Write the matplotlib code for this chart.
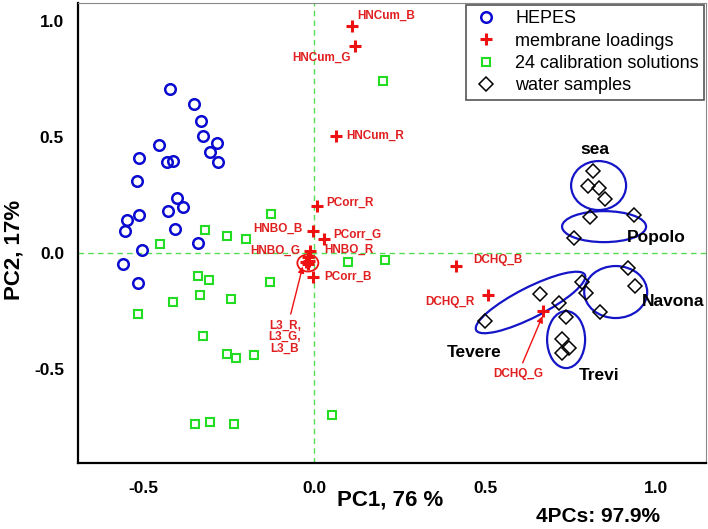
import matplotlib
matplotlib.use("Agg")
import matplotlib.pyplot as plt
from matplotlib.patches import Ellipse
from matplotlib.transforms import ScaledTranslation

plt.rcParams['font.family'] = ['Liberation Sans', 'DejaVu Sans']

# HEPES (blue circles)
hepes_x = [-0.421, -0.351, -0.330, -0.325, -0.284, -0.304, -0.281, -0.453, -0.430, -0.412,
           -0.512, -0.518, -0.401, -0.383, -0.427, -0.512, -0.547, -0.553, -0.406, -0.339,
           -0.503, -0.558, -0.515]
hepes_y = [0.707, 0.642, 0.569, 0.504, 0.474, 0.435, 0.392, 0.466, 0.392, 0.397,
           0.409, 0.310, 0.237, 0.198, 0.181, 0.164, 0.142, 0.095, 0.103, 0.043,
           0.013, -0.047, -0.129]

# 24 calibration solutions (green squares)
calib_x = [0.202, -0.126, -0.319, -0.254, -0.199, -0.450, 0.099, 0.208, -0.339, -0.307,
           -0.129, -0.333, -0.412, -0.243, -0.515, -0.325, -0.254, -0.228, -0.175, -0.348,
           -0.304, -0.234, 0.053]
calib_y = [0.741, 0.168, 0.099, 0.073, 0.060, 0.039, -0.039, -0.030, -0.099, -0.116,
           -0.125, -0.181, -0.211, -0.198, -0.263, -0.358, -0.435, -0.453, -0.440, -0.737,
           -0.728, -0.737, -0.698]

# membrane loadings (red plus)
mem_names = ["HNCum_B", "HNCum_G", "HNCum_R", "PCorr_R", "HNBO_B", "PCorr_G",
             "HNBO_G", "HNBO_R", "PCorr_B", "L3_R", "L3_G", "L3_B",
             "DCHQ_B", "DCHQ_R", "DCHQ_G"]
mem_x = [0.111, 0.120, 0.064, 0.009, -0.003, 0.029, -0.018, -0.012, -0.003,
         -0.024, -0.018, -0.015, 0.415, 0.509, 0.670]
mem_y = [0.978, 0.892, 0.504, 0.203, 0.095, 0.060, -0.017, 0.009, -0.103,
         -0.039, -0.047, -0.035, -0.056, -0.181, -0.250]

# water samples (black diamonds)
water_x = [0.816, 0.801, 0.833, 0.851, 0.807, 0.936, 0.760, 0.918, 0.939, 0.836,
           0.784, 0.795, 0.500, 0.661, 0.716, 0.737, 0.725, 0.746, 0.725]
water_y = [0.353, 0.289, 0.280, 0.233, 0.155, 0.164, 0.065, -0.065, -0.142, -0.254,
           -0.125, -0.172, -0.293, -0.177, -0.216, -0.276, -0.371, -0.409, -0.431]

# groups of water samples
group_names = ["sea", "Popolo", "Navona", "Tevere", "Trevi"]
group_cx = [0.832, 0.848, 0.882, 0.633, 0.737]
group_cy = [0.291, 0.114, -0.168, -0.213, -0.373]
group_w = [55, 84, 63, 122, 38]     # ellipse size in pixels
group_h = [49, 31, 52, 30, 57]
group_ang = [0, 0, 0, 27, 0]
group_lx = [0.822, 1.000, 1.050, 0.468, 0.833]
group_ly = [0.448, 0.065, -0.207, -0.427, -0.526]

# label offsets (pixels) for membrane loadings
lab_off = {
    "HNCum_B": (5, 10, "left"), "HNCum_G": (-4, -12, "right"), "HNCum_R": (10, 0, "left"),
    "PCorr_R": (9, 3, "left"), "HNBO_B": (-10, 2, "right"), "PCorr_G": (9, 4, "left"),
    "HNBO_G": (-8, 6, "right"), "HNBO_R": (14, 1, "left"), "PCorr_B": (11, 0, "left"),
    "DCHQ_B": (17, 6, "left"), "DCHQ_R": (-13, -7, "right"),
}

RED = "#ee1111"
RED_T = "#e02020"
BLUE = "#0a0ad0"
GREEN = "#22dd22"

fig = plt.figure(figsize=(7.08, 5.29), dpi=100)
ax = fig.add_axes([78 / 708, 66 / 529, 628 / 708, 460 / 529])
ax.set_xlim(-0.690, 1.146)
ax.set_ylim(-0.905, 1.078)

ax.axhline(0, color="#55dd55", lw=1, ls=(0, (4, 3)), zorder=1)
ax.axvline(0, color="#55dd55", lw=1, ls=(0, (4, 3)), zorder=1)

ax.plot(hepes_x, hepes_y, "o", ls="none", ms=7.6, mfc="none", mec=BLUE, mew=1.8, label="HEPES", zorder=3)
ax.plot(mem_x, mem_y, "+", ls="none", ms=8.5, mec=RED, mew=2.2, label="membrane loadings", zorder=4)
ax.plot(calib_x, calib_y, "s", ls="none", ms=5.7, mfc="none", mec=GREEN, mew=1.5,
        label="24 calibration solutions", zorder=3)
ax.plot(water_x, water_y, "D", ls="none", ms=6.8, mfc="none", mec="black", mew=1.1,
        label="water samples", zorder=3)

for name, x, y in zip(mem_names, mem_x, mem_y):
    if name in lab_off:
        dx, dy, ha = lab_off[name]
        ax.annotate(name, (x, y), xytext=(dx, dy), textcoords="offset pixels",
                    ha=ha, va="center", color=RED_T, fontsize=8.5, fontweight="bold", zorder=5)

# L3 circle and arrow
l3 = Ellipse((0, 0), 0.21, 0.17, fill=False, ec=RED, lw=1.3,
             transform=fig.dpi_scale_trans + ScaledTranslation(-0.018, -0.043, ax.transData))
ax.add_patch(l3)
ax.annotate("L3_R,\nL3_G,\nL3_B", xy=(-0.033, -0.058), xytext=(-0.085, -0.362),
            ha="center", va="center", color=RED_T, fontsize=8.5, fontweight="bold",
            linespacing=0.95,
            arrowprops=dict(arrowstyle="-|>", color=RED, lw=1, mutation_scale=9, shrinkA=2, shrinkB=0))
ax.annotate("DCHQ_G", xy=(0.668, -0.272), xytext=(0.596, -0.522),
            ha="center", va="center", color=RED_T, fontsize=8.5, fontweight="bold",
            arrowprops=dict(arrowstyle="-|>", color=RED, lw=1, mutation_scale=9, shrinkA=2, shrinkB=0))

for name, cx, cy, w, h, a, lx, ly in zip(group_names, group_cx, group_cy, group_w, group_h,
                                         group_ang, group_lx, group_ly):
    e = Ellipse((0, 0), w / 100, h / 100, angle=a, fill=False, ec="#1515c8", lw=1.6,
                transform=fig.dpi_scale_trans + ScaledTranslation(cx, cy, ax.transData), zorder=2)
    ax.add_patch(e)
    ax.text(lx, ly, name, ha="center", va="center", fontsize=12.5, fontweight="bold", zorder=5)

ax.set_xticks([-0.5, 0.0, 0.5, 1.0])
ax.set_yticks([-0.5, 0.0, 0.5, 1.0])
ax.set_xticklabels(["-0.5", "0.0", "0.5", "1.0"])
ax.set_yticklabels(["-0.5", "0.0", "0.5", "1.0"])
ax.tick_params(length=0, labelsize=12.5)
ax.tick_params(axis="x", pad=13)
ax.tick_params(axis="y", pad=10)
for lab in ax.get_xticklabels() + ax.get_yticklabels():
    lab.set_fontweight("bold")

ax.spines["left"].set_linewidth(1.6)
ax.spines["bottom"].set_linewidth(1.6)
ax.spines["top"].set_color("#888888")
ax.spines["right"].set_color("#888888")

fig.text(390 / 708, 1 - 500 / 529, "PC1, 76 %", ha="center", va="center", fontsize=16, fontweight="bold")
fig.text(14 / 708, 1 - 250 / 529, "PC2, 17%", ha="center", va="center", rotation=90,
         fontsize=16, fontweight="bold")
fig.text(598 / 708, 1 - 517 / 529, "4PCs: 97.9%", ha="center", va="center", fontsize=15, fontweight="bold")

leg = ax.legend(loc="upper right", bbox_to_anchor=(1.0, 1.0), borderaxespad=0.1, fontsize=13,
                handlelength=1.6, handletextpad=0.8, labelspacing=0.3, borderpad=0.3,
                fancybox=False, framealpha=1)
leg.get_frame().set_edgecolor("#555555")
leg.get_frame().set_linewidth(1.2)

fig.savefig("out.png", dpi=100)
